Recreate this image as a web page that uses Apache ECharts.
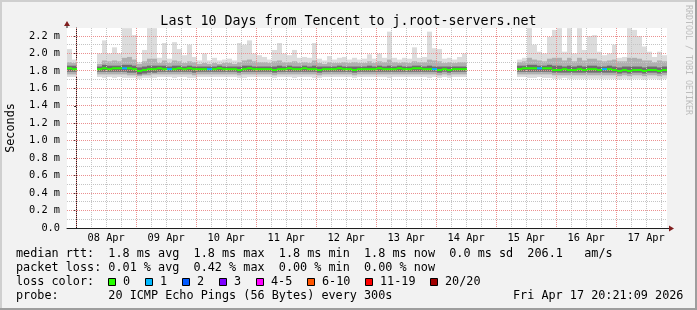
<!DOCTYPE html>
<html><head><meta charset="utf-8">
<script src="https://cdn.jsdelivr.net/npm/echarts@6/dist/echarts.min.js"></script>
<style>html,body{margin:0;padding:0;background:#f2f2f2}#c{width:697px;height:310px}</style>
</head><body><div id="c"></div>
<script>
// ---- time axis (hours relative to 08 Apr 00:00; window = 07 Apr 20:21 .. 17 Apr 20:21) ----
const T_START = -3.65;
const T_END = 236.35;
const STEP_H = 2;              // one smoke column = 2 hours
const dayLabelHours = [12, 36, 60, 84, 108, 132, 156, 180, 204, 228];
const dayLabels = ['08 Apr','09 Apr','10 Apr','11 Apr','12 Apr','13 Apr','14 Apr','15 Apr','16 Apr','17 Apr'];
const Y_MAX = 2.2917;

// ---- data (ms), 120 columns of 2h, null = no data ----
const N = null;
const median = [
 1.83,1.82,N,N,N,N,1.82,1.83,1.82,1.83,
 1.83,1.83,1.83,1.82,1.80,1.81,1.82,1.82,1.83,1.82,
 1.82,1.82,1.83,1.82,1.83,1.82,1.82,1.82,1.82,1.82,
 1.83,1.82,1.82,1.82,1.81,1.82,1.83,1.82,1.82,1.82,
 1.82,1.81,1.82,1.82,1.83,1.82,1.82,1.83,1.82,1.82,
 1.81,1.82,1.82,1.82,1.83,1.82,1.82,1.81,1.82,1.82,
 1.82,1.82,1.83,1.82,1.82,1.82,1.83,1.82,1.82,1.83,
 1.83,1.82,1.82,1.82,1.81,1.82,1.81,1.82,1.82,1.82,
 N,N,N,N,N,N,N,N,N,N,
 1.82,1.83,1.83,1.83,1.83,1.83,1.83,1.81,1.81,1.82,
 1.81,1.81,1.82,1.81,1.82,1.82,1.81,1.82,1.82,1.81,
 1.80,1.81,1.80,1.81,1.81,1.80,1.81,1.81,1.80,1.81
];
const lossCount = [
 0,0,N,N,N,N,0,0,0,0,
 0,1,0,0,0,0,0,0,0,0,
 1,0,0,0,0,0,0,0,1,0,
 0,0,0,0,0,0,0,0,0,0,
 0,0,0,0,0,0,0,0,0,0,
 0,0,0,0,0,0,0,0,0,0,
 0,0,0,0,0,0,0,0,0,0,
 0,0,0,1,0,0,0,0,0,0,
 N,N,N,N,N,N,N,N,N,N,
 0,0,0,0,1,0,0,0,0,0,
 0,0,0,0,0,0,0,1,0,0,
 0,0,0,0,0,0,0,0,0,0
];
const smokeMax = [
 2.05,1.93,N,N,N,N,2.00,2.15,2.00,2.07,
 2.00,2.29,2.29,2.21,1.90,2.04,2.29,2.29,1.95,2.12,
 1.94,2.13,2.05,1.98,2.10,1.96,1.92,2.00,1.92,1.95,
 1.92,1.93,1.94,1.92,2.12,2.10,2.15,2.00,1.98,1.96,
 1.93,2.04,2.12,2.00,1.98,2.04,1.95,1.96,1.95,2.12,
 1.94,1.92,1.97,1.93,1.95,1.96,1.93,1.95,1.93,1.94,
 1.99,1.94,2.00,1.95,2.25,1.95,1.93,1.95,1.94,2.07,
 1.95,1.96,2.25,2.06,2.05,1.94,1.95,1.93,1.96,2.00,
 N,N,N,N,N,N,N,N,N,N,
 1.93,1.95,2.29,2.10,2.02,2.00,2.19,2.27,2.29,2.02,
 2.29,2.00,2.29,2.04,2.20,2.21,2.02,1.98,2.00,2.10,
 1.95,1.96,2.29,2.27,2.20,2.08,2.02,1.96,2.02,1.98
];
const smokeHigh = [
 1.90,1.89,N,N,N,N,1.88,1.92,1.91,1.92,
 1.91,1.95,1.96,1.93,1.88,1.91,1.94,1.94,1.89,1.92,
 1.89,1.92,1.91,1.89,1.91,1.90,1.88,1.89,1.88,1.89,
 1.88,1.89,1.89,1.88,1.90,1.92,1.93,1.91,1.90,1.90,
 1.89,1.91,1.92,1.90,1.90,1.91,1.89,1.90,1.89,1.92,
 1.89,1.88,1.90,1.89,1.89,1.90,1.89,1.90,1.89,1.89,
 1.91,1.89,1.91,1.90,1.93,1.90,1.89,1.90,1.89,1.91,
 1.90,1.90,1.93,1.92,1.91,1.89,1.90,1.89,1.90,1.90,
 N,N,N,N,N,N,N,N,N,N,
 1.90,1.91,1.95,1.93,1.92,1.91,1.94,1.95,1.95,1.92,
 1.95,1.91,1.95,1.92,1.94,1.94,1.92,1.91,1.92,1.93,
 1.91,1.91,1.95,1.95,1.94,1.92,1.92,1.90,1.92,1.91
];
const coreHigh = [
 1.86,1.86,N,N,N,N,1.85,1.87,1.86,1.86,
 1.86,1.87,1.87,1.86,1.84,1.85,1.86,1.86,1.86,1.86,
 1.85,1.86,1.86,1.85,1.86,1.85,1.85,1.85,1.85,1.85,
 1.86,1.85,1.85,1.85,1.85,1.86,1.86,1.85,1.85,1.85,
 1.85,1.85,1.86,1.85,1.86,1.85,1.85,1.86,1.85,1.86,
 1.85,1.85,1.85,1.85,1.86,1.85,1.85,1.85,1.85,1.85,
 1.86,1.85,1.86,1.85,1.86,1.85,1.86,1.85,1.85,1.86,
 1.86,1.85,1.86,1.85,1.85,1.85,1.85,1.85,1.85,1.85,
 N,N,N,N,N,N,N,N,N,N,
 1.86,1.86,1.87,1.87,1.86,1.86,1.87,1.86,1.86,1.85,
 1.86,1.85,1.86,1.85,1.86,1.86,1.85,1.85,1.86,1.85,
 1.84,1.85,1.85,1.85,1.85,1.84,1.85,1.85,1.84,1.85
];
const coreLow = [
 1.79,1.79,N,N,N,N,1.79,1.79,1.79,1.79,
 1.79,1.79,1.78,1.78,1.76,1.77,1.78,1.78,1.79,1.79,
 1.79,1.79,1.79,1.79,1.79,1.78,1.79,1.79,1.79,1.79,
 1.79,1.79,1.79,1.79,1.78,1.79,1.79,1.79,1.79,1.79,
 1.79,1.78,1.79,1.79,1.79,1.79,1.79,1.79,1.79,1.79,
 1.78,1.79,1.79,1.79,1.79,1.79,1.79,1.78,1.79,1.79,
 1.79,1.79,1.79,1.79,1.79,1.79,1.79,1.79,1.79,1.79,
 1.79,1.79,1.79,1.79,1.78,1.79,1.78,1.79,1.79,1.79,
 N,N,N,N,N,N,N,N,N,N,
 1.79,1.79,1.79,1.79,1.79,1.79,1.79,1.78,1.78,1.78,
 1.78,1.78,1.78,1.78,1.78,1.78,1.78,1.78,1.78,1.78,
 1.77,1.78,1.77,1.78,1.78,1.77,1.78,1.78,1.77,1.78
];
const smokeLowMid = [
 1.76,1.76,N,N,N,N,1.76,1.76,1.76,1.76,
 1.76,1.76,1.75,1.75,1.74,1.75,1.75,1.76,1.76,1.76,
 1.76,1.76,1.76,1.76,1.76,1.75,1.76,1.76,1.76,1.76,
 1.76,1.76,1.76,1.76,1.75,1.76,1.76,1.76,1.76,1.76,
 1.76,1.75,1.76,1.76,1.76,1.76,1.76,1.76,1.76,1.76,
 1.75,1.76,1.76,1.76,1.76,1.76,1.76,1.75,1.76,1.76,
 1.76,1.76,1.76,1.76,1.76,1.76,1.76,1.76,1.76,1.76,
 1.76,1.76,1.76,1.76,1.75,1.76,1.75,1.76,1.76,1.76,
 N,N,N,N,N,N,N,N,N,N,
 1.76,1.76,1.76,1.76,1.76,1.76,1.76,1.75,1.75,1.75,
 1.75,1.75,1.75,1.75,1.75,1.75,1.75,1.75,1.75,1.75,
 1.74,1.75,1.74,1.75,1.75,1.74,1.75,1.75,1.74,1.75
];
const smokeMin = [
 1.73,1.73,N,N,N,N,1.73,1.72,1.73,1.72,
 1.73,1.72,1.72,1.72,1.71,1.72,1.72,1.72,1.73,1.73,
 1.73,1.72,1.73,1.73,1.72,1.72,1.73,1.73,1.73,1.73,
 1.73,1.73,1.73,1.73,1.72,1.72,1.73,1.73,1.73,1.73,
 1.73,1.72,1.73,1.73,1.73,1.72,1.73,1.73,1.73,1.72,
 1.72,1.73,1.73,1.73,1.73,1.73,1.73,1.72,1.73,1.73,
 1.73,1.73,1.73,1.73,1.72,1.73,1.73,1.73,1.73,1.73,
 1.73,1.73,1.72,1.73,1.72,1.73,1.72,1.73,1.73,1.73,
 N,N,N,N,N,N,N,N,N,N,
 1.73,1.73,1.72,1.72,1.73,1.72,1.72,1.71,1.71,1.72,
 1.71,1.71,1.71,1.71,1.71,1.71,1.71,1.71,1.71,1.71,
 1.70,1.71,1.70,1.71,1.71,1.70,1.71,1.71,1.70,1.71
];

// ---- loss colour legend ----
const lossLabels = ['0','1','2','3','4-5','6-10','11-19','20/20'];
const lossColors = ['#26ff00','#00b8ff','#0059ff','#7e00ff','#ff00ff','#ff5500','#ff0000','#a10000'];
const lossBoxX = [108,145,182,219,256,307,365,430];

// ---- legend text ----
const legendLines = [
 'median rtt:  1.8 ms avg  1.8 ms max  1.8 ms min  1.8 ms now  0.0 ms sd  206.1   am/s',
 'packet loss: 0.01 % avg  0.42 % max  0.00 % min  0.00 % now',
 'loss color:',
 'probe:       20 ICMP Echo Pings (56 Bytes) every 300s'
];
const stampText = 'Fri Apr 17 20:21:09 2026';
const titleText = 'Last 10 Days from Tencent to j.root-servers.net';

// ---------------------------------------------------------------
const MONO = '"DejaVu Sans Mono", monospace';
const smokeData = [];
for (let k = 0; k < median.length; k++) {
  if (median[k] == null) continue;
  smokeData.push([k, median[k], lossCount[k], smokeMax[k], smokeHigh[k], coreHigh[k], coreLow[k], smokeLowMid[k], smokeMin[k]]);
}
function colT(k) { return T_START + k * STEP_H; }

function renderSmoke(params, api) {
  const k = api.value(0);
  const ta = colT(k), tb = ta + STEP_H;
  const bands = [[8, 3, '#dcdcdc'], [7, 4, '#b0b0b0'], [6, 5, '#6e6e6e']];
  const children = bands.map(b => {
    const p0 = api.coord([ta, api.value(b[1])]);
    const p1 = api.coord([tb, api.value(b[0])]);
    return { type: 'rect', shape: { x: p0[0], y: p0[1], width: p1[0] - p0[0], height: p1[1] - p0[1] }, style: { fill: b[2] } };
  });
  return { type: 'group', children };
}
function renderMedian(params, api) {
  const k = api.value(0);
  const ta = colT(k), tb = ta + STEP_H;
  const p0 = api.coord([ta, api.value(1)]);
  const p1 = api.coord([tb, api.value(1)]);
  const c = lossColors[Math.min(api.value(2), lossColors.length - 1)];
  return { type: 'rect', shape: { x: p0[0], y: p0[1] - 1, width: p1[0] - p0[0], height: 2 }, style: { fill: c } };
}

// grid lines: [direction (0 = vertical at x value, 1 = horizontal at y value), value, major]
const gridLines = [];
for (let h = 0; h <= 234; h += 6) gridLines.push([0, h, h % 24 === 0 ? 1 : 0]);
for (let i = 1; i <= 22; i++) gridLines.push([1, i / 10, i % 2 === 0 ? 1 : 0]);
gridLines.sort((a, b) => a[2] - b[2]);
const MINOR = '#c4c4c4', MAJOR = '#eb9090';
function renderGrid(params, api) {
  const dir = api.value(0), v = api.value(1), major = api.value(2);
  const cs = params.coordSys;
  let shape;
  if (dir === 0) {
    const x = Math.floor(api.coord([v, 0])[0]) + 0.5;
    shape = { x1: x, y1: cs.y, x2: x, y2: cs.y + cs.height };
  } else {
    const y = Math.floor(api.coord([T_START, v])[1]) + 0.5;
    shape = { x1: cs.x, y1: y, x2: cs.x + cs.width, y2: y };
  }
  return { type: 'line', shape, style: { stroke: major ? MAJOR : MINOR, lineWidth: 1, lineDash: [1, 1] } };
}

// graphic elements
const graphic = [];
graphic.push({ type: 'rect', shape: { x: 0, y: 0, width: 697, height: 2 }, style: { fill: '#cfcfcf' }, silent: true });
graphic.push({ type: 'rect', shape: { x: 0, y: 0, width: 2, height: 310 }, style: { fill: '#cfcfcf' }, silent: true });
graphic.push({ type: 'rect', shape: { x: 0, y: 308, width: 697, height: 2 }, style: { fill: '#9e9e9e' }, silent: true });
graphic.push({ type: 'rect', shape: { x: 695, y: 0, width: 2, height: 310 }, style: { fill: '#9e9e9e' }, silent: true });
// axis extensions + arrows
graphic.push({ type: 'line', shape: { x1: 67, y1: 28, x2: 67, y2: 23 }, style: { stroke: '#1f1f1f', lineWidth: 1 }, silent: true });
graphic.push({ type: 'polygon', shape: { points: [[64, 26], [70, 26], [67, 21]] }, style: { fill: '#801f1f' }, silent: true });
graphic.push({ type: 'line', shape: { x1: 667, y1: 228.5, x2: 671, y2: 228.5 }, style: { stroke: '#1f1f1f', lineWidth: 1 }, silent: true });
graphic.push({ type: 'polygon', shape: { points: [[669, 225.5], [669, 231.5], [674, 228.5]] }, style: { fill: '#801f1f' }, silent: true });
// legend lines
const rowY = [254, 268, 282, 296];
legendLines.forEach((t, i) => {
  graphic.push({ type: 'text', x: 16, y: rowY[i], style: { text: t, font: '11.8px ' + MONO, fill: '#000', textVerticalAlign: 'middle' }, silent: true });
});
graphic.push({ type: 'text', x: 513, y: rowY[3], style: { text: stampText, font: '11.8px ' + MONO, fill: '#000', textVerticalAlign: 'middle' }, silent: true });
lossLabels.forEach((t, i) => {
  graphic.push({ type: 'rect', shape: { x: lossBoxX[i] + 0.5, y: 278.5, width: 7, height: 7 }, style: { fill: lossColors[i], stroke: '#000', lineWidth: 1 }, silent: true });
  graphic.push({ type: 'text', x: lossBoxX[i] + 15, y: rowY[2], style: { text: t, font: '11.8px ' + MONO, fill: '#000', textVerticalAlign: 'middle' }, silent: true });
});
// watermark
graphic.push({ type: 'text', x: 688, y: 5, rotation: -Math.PI / 2, style: { text: 'RRDTOOL / TOBI OETIKER', font: '8.3px ' + MONO, fill: '#bdbdbd', textVerticalAlign: 'middle' }, silent: true });

const chart = echarts.init(document.getElementById('c'), null, { renderer: 'canvas' });
chart.setOption({
  animation: false,
  backgroundColor: '#f2f2f2',
  textStyle: { fontFamily: MONO },
  title: {
    text: titleText, left: 'center', top: 10,
    textStyle: { fontFamily: MONO, fontSize: 13.3, fontWeight: 'normal', color: '#000' }
  },
  grid: { left: 67, top: 28, width: 600, height: 200, show: true, backgroundColor: '#ffffff', borderWidth: 0, containLabel: false, outerBoundsMode: 'none' },
  xAxis: {
    type: 'value', min: T_START, max: T_END,
    axisLine: { show: true, onZero: false, lineStyle: { color: '#1f1f1f', width: 1 } },
    axisTick: { show: false },
    splitLine: { show: false },
    axisLabel: {
      customValues: dayLabelHours, margin: 5,
      formatter: v => { const i = dayLabelHours.indexOf(Math.round(v)); return i >= 0 ? dayLabels[i] : ''; },
      fontFamily: MONO, fontSize: 10.3, color: '#000', showMinLabel: true, showMaxLabel: true
    }
  },
  yAxis: {
    type: 'value', min: 0, max: Y_MAX, interval: 0.2,
    name: 'Seconds', nameLocation: 'middle', nameGap: 50,
    nameTextStyle: { fontFamily: MONO, fontSize: 11.8, color: '#000' },
    axisLine: { show: true, lineStyle: { color: '#1f1f1f', width: 1 } },
    axisTick: { show: true, length: 2, lineStyle: { color: '#1f1f1f' } },
    splitLine: { show: false },
    axisLabel: {
      margin: 7, showMaxLabel: false,
      formatter: v => (Math.abs(v) < 1e-9 ? '0.0' : v.toFixed(1) + ' m'),
      fontFamily: MONO, fontSize: 10.3, color: '#000'
    }
  },
  graphic: graphic,
  series: [
    {
      type: 'custom', name: 'smoke', z: 1, clip: true,
      renderItem: renderSmoke, data: smokeData,
      encode: { x: 0, y: [3, 8] }
    },
    {
      type: 'custom', name: 'grid', z: 2, silent: true,
      renderItem: renderGrid, data: gridLines,
      encode: { x: 1, y: 0 }
    },
    {
      type: 'custom', name: 'median', z: 3, clip: true,
      renderItem: renderMedian, data: smokeData,
      encode: { x: 0, y: 1 }
    }
  ]
});
</script></body></html>
